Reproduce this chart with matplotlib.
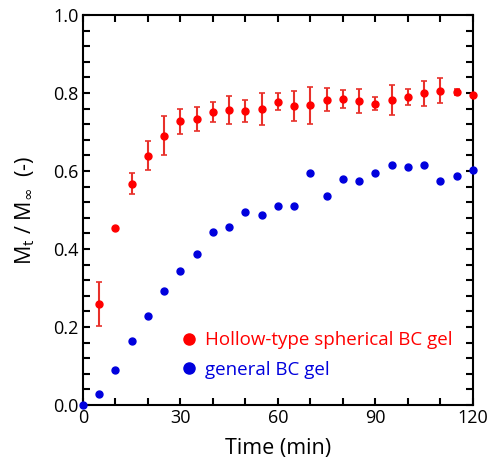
import matplotlib
matplotlib.use("Agg")
import matplotlib.pyplot as plt
from matplotlib.lines import Line2D
from matplotlib.ticker import MultipleLocator

plt.rcParams['font.family'] = ['Open Sans', 'DejaVu Sans']
plt.rcParams['mathtext.fontset'] = 'custom'
plt.rcParams['mathtext.rm'] = 'Open Sans'
plt.rcParams['mathtext.it'] = 'Open Sans'
plt.rcParams['mathtext.sf'] = 'DejaVu Sans'

# hollow-type spherical BC gel (with error bars)
t_hollow = [5, 10, 15, 20, 25, 30, 35, 40, 45, 50, 55, 60, 65, 70, 75, 80, 85, 90, 95, 100, 105, 110, 115, 120]
m_hollow = [0.259, 0.455, 0.567, 0.639, 0.691, 0.727, 0.733, 0.752, 0.756, 0.754, 0.759, 0.778,
            0.767, 0.768, 0.783, 0.785, 0.780, 0.773, 0.782, 0.790, 0.799, 0.806, 0.803, 0.796]
err_hollow = [0.057, 0.0, 0.027, 0.037, 0.051, 0.033, 0.031, 0.026, 0.036, 0.029, 0.041, 0.022,
              0.039, 0.047, 0.030, 0.023, 0.030, 0.017, 0.038, 0.021, 0.032, 0.032, 0.008, 0.0]

# general BC gel
t_general = [0, 5, 10, 15, 20, 25, 30, 35, 40, 45, 50, 55, 60, 65, 70, 75, 80, 85, 90, 95, 100, 105, 110, 115, 120]
m_general = [0.0, 0.027, 0.091, 0.163, 0.228, 0.293, 0.344, 0.387, 0.444, 0.457, 0.494, 0.487, 0.509,
             0.509, 0.595, 0.537, 0.580, 0.574, 0.595, 0.615, 0.609, 0.615, 0.574, 0.587, 0.603]

red = '#ff0000'
blue = '#0000dd'

fig = plt.figure(figsize=(4.89, 4.61), dpi=100)
ax = fig.add_axes([83/489, 1 - 405/461, 390/489, 390/461])

ax.errorbar(t_hollow, m_hollow, yerr=err_hollow, fmt='o', color=red, ecolor='#e8302a',
            markersize=5, elinewidth=1.5, capsize=2, capthick=1.2, clip_on=False, zorder=3)
ax.plot(t_general, m_general, 'o', color=blue, markersize=5, clip_on=False, zorder=4)

ax.set_xlim(0, 120)
ax.set_ylim(0, 1.0)
ax.set_xticks([0, 30, 60, 90, 120])
ax.xaxis.set_minor_locator(MultipleLocator(10))
ax.set_yticks([0.0, 0.2, 0.4, 0.6, 0.8, 1.0])
ax.yaxis.set_minor_locator(MultipleLocator(0.04))
ax.set_yticklabels(['0.0', '0.2', '0.4', '0.6', '0.8', '1.0'])
ax.tick_params(which='both', direction='in', top=True, right=True, width=1.5, length=5,
               labelsize=13, pad=3)
for s in ax.spines.values():
    s.set_linewidth(1.5)

ax.set_xlabel('Time (min)', fontsize=15.5, labelpad=8)
ax.set_ylabel(r'M$_\mathrm{t}$ / M$_{\mathsf{\infty}}$  (-)', fontsize=15.5, labelpad=12)

handles = [Line2D([], [], ls='none', marker='o', color=red, markersize=8),
           Line2D([], [], ls='none', marker='o', color=blue, markersize=8)]
labels = ['Hollow-type spherical BC gel', 'general BC gel']
leg = ax.legend(handles, labels, loc='center left', bbox_to_anchor=(0.238, 0.128),
                borderaxespad=0, frameon=False, fontsize=13.5, handlelength=0.6,
                handletextpad=0.55, labelspacing=0.6)
for txt, c in zip(leg.get_texts(), [red, blue]):
    txt.set_color(c)

fig.savefig('out.png', dpi=100)
